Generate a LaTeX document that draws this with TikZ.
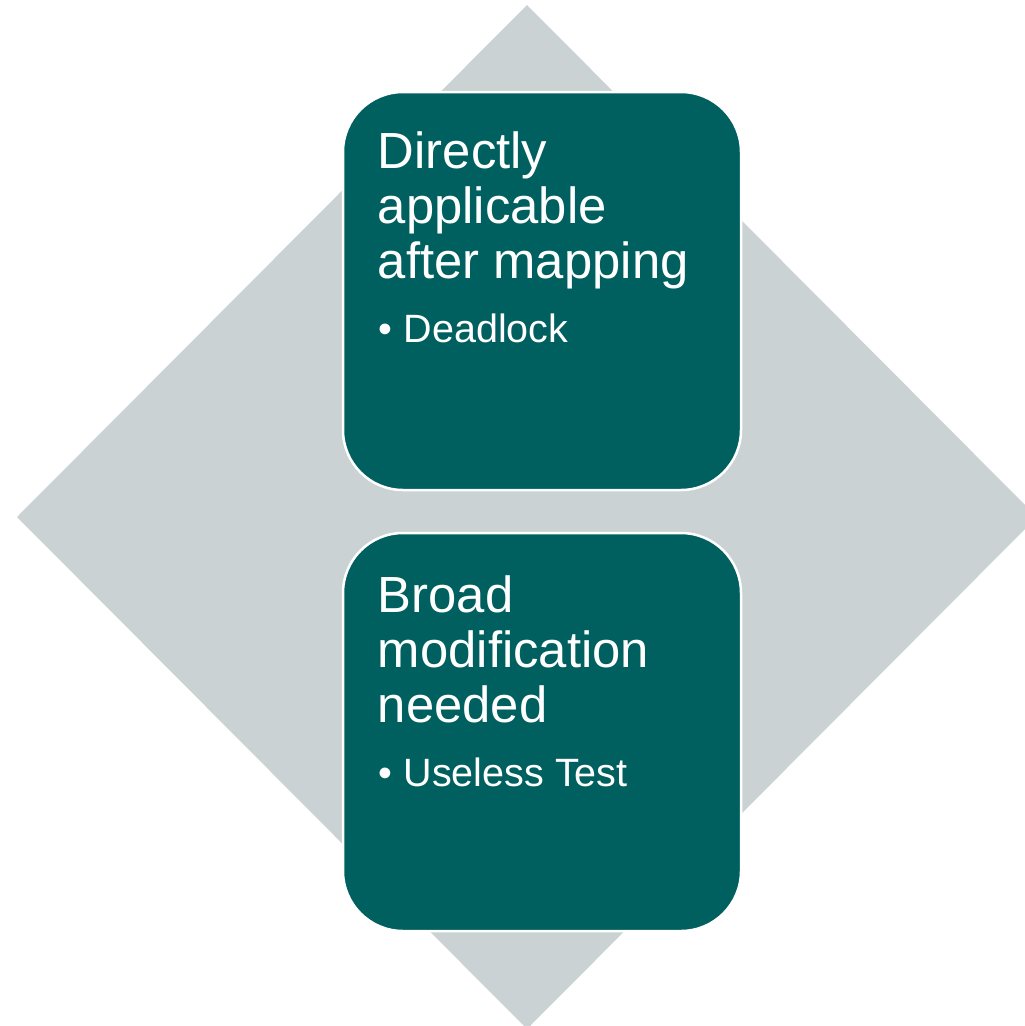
\documentclass[tikz,border=0pt]{standalone}
\usepackage{fontspec}
\setmainfont{Liberation Sans}
\definecolor{teal}{RGB}{0,96,96}
\definecolor{diamondgrey}{RGB}{202,210,211}
\tikzset{
  box/.style={draw=white, line width=2.5pt, fill=teal, rounded corners=60pt,
    minimum width=398pt, minimum height=398pt, inner sep=0pt},
  head/.style={text=white, align=left, inner sep=0pt,
    font=\fontsize{50.8}{55}\selectfont},
  item/.style={text=white, inner sep=0pt, font=\fontsize{39.5}{44}\selectfont}
}
\begin{document}
\begin{tikzpicture}[x=1pt, y=-1pt]
\clip (0,0) rectangle (1025,1026);
% grey diamond behind
\fill[diamondgrey] (527,5) -- (17,517) -- (527,1029) -- (1037,517) -- cycle;
% the two boxes
\node[box] (top) at (542,291) {};
\node[box] (bottom) at (542,732) {};
\node[head, anchor=north west] (tophead) at ([xshift=36pt, yshift=-41pt]top.north west) {Directly\\applicable\\after mapping};
\node[item, anchor=base west] (topitem) at ([xshift=37pt, yshift=-252pt]top.north west) {• Deadlock};
\node[head, anchor=north west] (bottomhead) at ([xshift=36pt, yshift=-44pt]bottom.north west) {Broad\\modification\\needed};
\node[item, anchor=base west] (bottomitem) at ([xshift=37pt, yshift=-255pt]bottom.north west) {• Useless Test};
\end{tikzpicture}
\end{document}
